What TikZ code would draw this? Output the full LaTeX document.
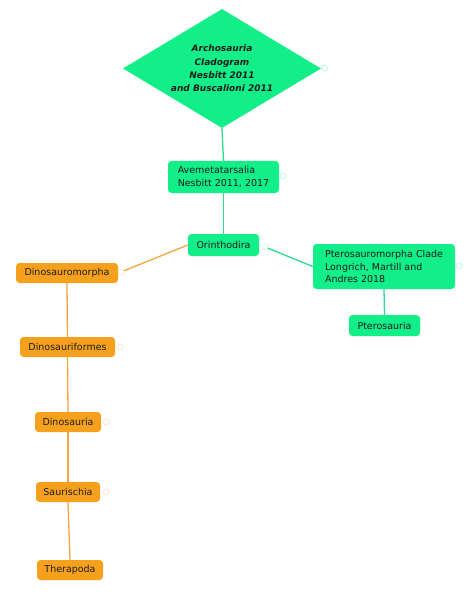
\documentclass[tikz,border=0pt]{standalone}
\usepackage{fontspec}
\setmainfont{DejaVu Sans}
\usetikzlibrary{shapes.geometric}
\definecolor{grn}{HTML}{12EE88}
\definecolor{grnline}{HTML}{2ED991}
\definecolor{org}{HTML}{F6A11E}
\definecolor{orgline}{HTML}{F2A540}
\definecolor{txt}{HTML}{1E1E1E}
\begin{document}
\begin{tikzpicture}[x=1pt,y=-1pt,
  boxtext/.style={font=\fontsize{9.5}{12.5}\selectfont, text=txt, inner sep=0pt, rounded corners=3.5pt, align=left},
  gbox/.style={boxtext, fill=grn},
  obox/.style={boxtext, fill=org},
  gline/.style={draw=grnline, line width=1.3pt},
  oline/.style={draw=orgline, line width=1.3pt},
  ghandle/.style={circle, draw=grn!25!white, fill=white, line width=0.8pt, inner sep=0pt, minimum size=6pt},
  ohandle/.style={circle, draw=org!25!white, fill=white, line width=0.8pt, inner sep=0pt, minimum size=6pt}]
\useasboundingbox (0,0) rectangle (474,604);
\fill[white] (0,0) rectangle (474,604);

% root diamond
\node[diamond, fill=grn, inner sep=0pt, minimum width=198pt, minimum height=119pt] (root) at (222,68.5) {};
\node[font=\fontsize{9}{13.3}\selectfont\bfseries\itshape, text=txt, align=center, inner sep=0pt] (roottxt) at (222,68.5) {Archosauria\\Cladogram\\Nesbitt 2011\\and Buscalioni 2011};
\node[ghandle] (rootH) at (325,68) {};

% green boxes
\node[gbox, minimum width=111pt, minimum height=32pt] (ave) at (223.5,177) {Avemetatarsalia\\Nesbitt 2011, 2017};
\node[ghandle] (aveH) at (283,176) {};
\node[gbox, minimum width=71pt, minimum height=22pt] (orin) at (223.5,245) {Orinthodira};
\node[ghandle] (orinH) at (265,247) {};
\node[gbox, minimum width=142pt, minimum height=45pt] (ptero) at (384,266.5) {Pterosauromorpha Clade\\Longrich, Martill and\\Andres 2018};
\node[ghandle] (pteroH) at (459,266) {};
\node[gbox, minimum width=71pt, minimum height=21pt] (pts) at (384.5,325.5) {Pterosauria};

% orange boxes
\node[obox, minimum width=102pt, minimum height=20pt] (dm) at (67,273) {Dinosauromorpha};
\node[ohandle] (dmH) at (121,272) {};
\node[obox, minimum width=95pt, minimum height=20pt] (dfm) at (67.5,347) {Dinosauriformes};
\node[ohandle] (dfmH) at (120,347) {};
\node[obox, minimum width=66pt, minimum height=20pt] (dsa) at (68,422) {Dinosauria};
\node[ohandle] (dsaH) at (106,422) {};
\node[obox, minimum width=64pt, minimum height=20pt] (sau) at (68,492) {Saurischia};
\node[ohandle] (sauH) at (106,492) {};
\node[obox, minimum width=66pt, minimum height=20pt] (ther) at (70,570) {Therapoda};

% connectors
\begin{scope}[on background layer/.style={}]
\draw[gline] (root.south) -- (ave.north);
\draw[gline] (ave.south) -- (orin.north);
\draw[gline] (orinH) -- (ptero.west);
\draw[gline] (ptero.south) -- (pts.north);
\draw[oline] (orin.west) -- (dmH);
\draw[oline] (dm.south) -- (dfm.north);
\draw[oline] (dfm.south) -- (dsa.north);
\draw[oline] (dsa.south) -- (sau.north);
\draw[oline] (sau.south) -- (ther.north);
\end{scope}
\end{tikzpicture}
\end{document}
